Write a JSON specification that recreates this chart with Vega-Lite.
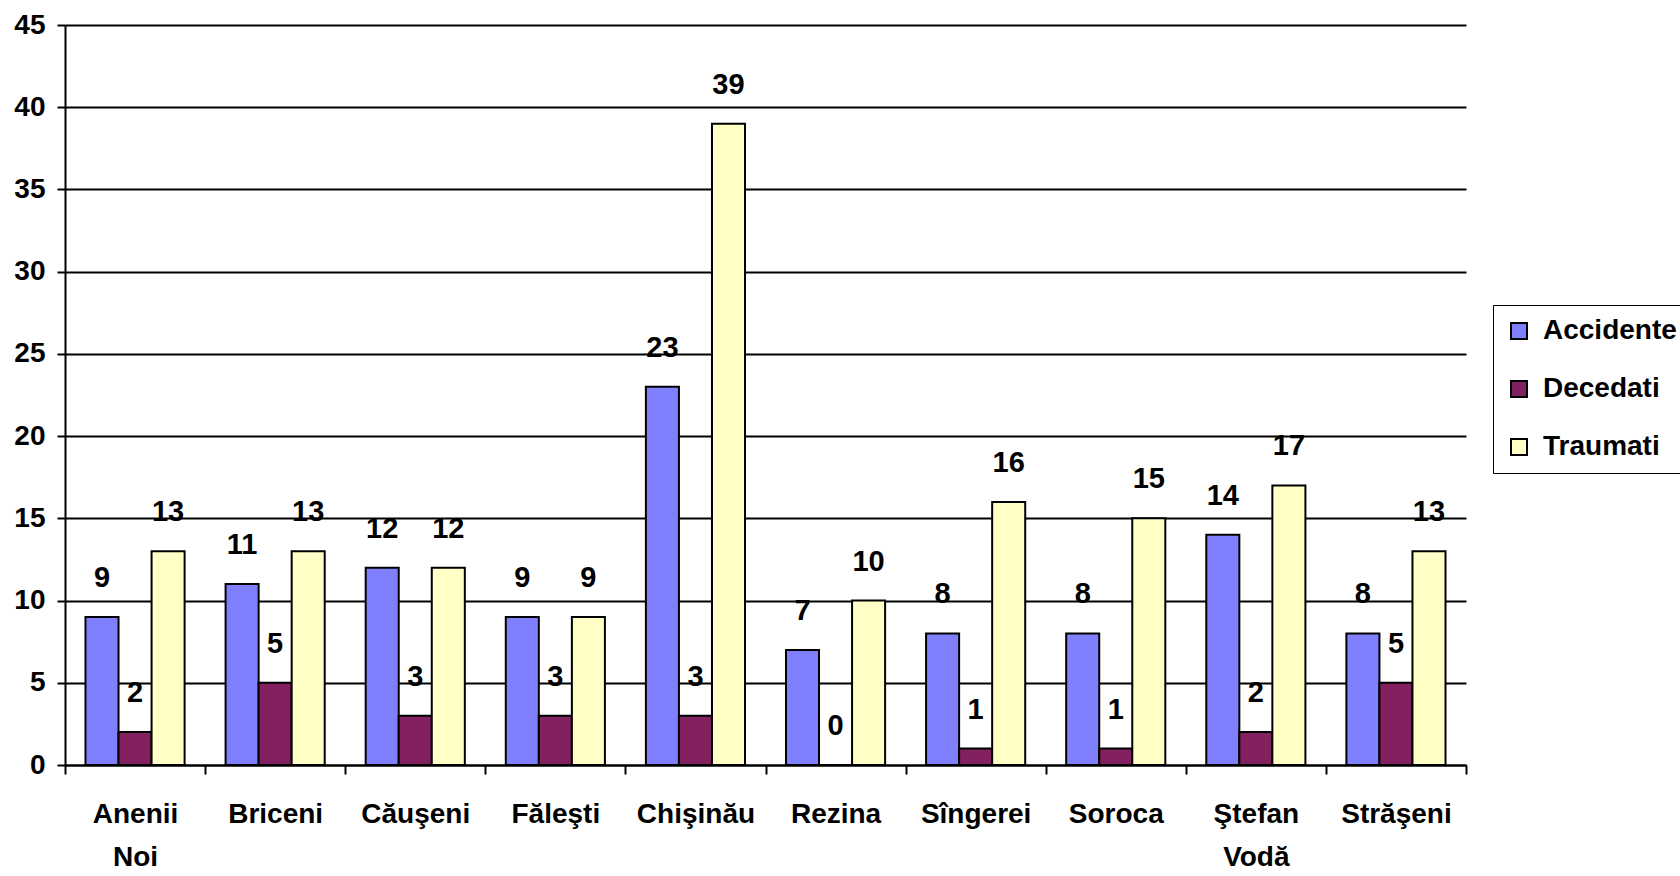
{
  "$schema": "https://vega.github.io/schema/vega-lite/v6.json",
  "autosize": {"type": "none"},
  "padding": {"left": 65, "top": 25, "right": 214, "bottom": 111},
  "width": 1401,
  "height": 740,
  "background": "white",
  "config": {
    "font": "Liberation Sans",
    "view": {"stroke": null},
    "axis": {"labelFont": "Liberation Sans", "labelFontWeight": "bold", "labelColor": "black", "labelFontSize": 28}
  },
  "data": {
    "values": [
      {"raion": "Anenii Noi", "serie": "Accidente", "valoare": 9},
      {"raion": "Anenii Noi", "serie": "Decedati", "valoare": 2},
      {"raion": "Anenii Noi", "serie": "Traumati", "valoare": 13},
      {"raion": "Briceni", "serie": "Accidente", "valoare": 11},
      {"raion": "Briceni", "serie": "Decedati", "valoare": 5},
      {"raion": "Briceni", "serie": "Traumati", "valoare": 13},
      {"raion": "Căuşeni", "serie": "Accidente", "valoare": 12},
      {"raion": "Căuşeni", "serie": "Decedati", "valoare": 3},
      {"raion": "Căuşeni", "serie": "Traumati", "valoare": 12},
      {"raion": "Făleşti", "serie": "Accidente", "valoare": 9},
      {"raion": "Făleşti", "serie": "Decedati", "valoare": 3},
      {"raion": "Făleşti", "serie": "Traumati", "valoare": 9},
      {"raion": "Chişinău", "serie": "Accidente", "valoare": 23},
      {"raion": "Chişinău", "serie": "Decedati", "valoare": 3},
      {"raion": "Chişinău", "serie": "Traumati", "valoare": 39},
      {"raion": "Rezina", "serie": "Accidente", "valoare": 7},
      {"raion": "Rezina", "serie": "Decedati", "valoare": 0},
      {"raion": "Rezina", "serie": "Traumati", "valoare": 10},
      {"raion": "Sîngerei", "serie": "Accidente", "valoare": 8},
      {"raion": "Sîngerei", "serie": "Decedati", "valoare": 1},
      {"raion": "Sîngerei", "serie": "Traumati", "valoare": 16},
      {"raion": "Soroca", "serie": "Accidente", "valoare": 8},
      {"raion": "Soroca", "serie": "Decedati", "valoare": 1},
      {"raion": "Soroca", "serie": "Traumati", "valoare": 15},
      {"raion": "Ştefan Vodă", "serie": "Accidente", "valoare": 14},
      {"raion": "Ştefan Vodă", "serie": "Decedati", "valoare": 2},
      {"raion": "Ştefan Vodă", "serie": "Traumati", "valoare": 17},
      {"raion": "Străşeni", "serie": "Accidente", "valoare": 8},
      {"raion": "Străşeni", "serie": "Decedati", "valoare": 5},
      {"raion": "Străşeni", "serie": "Traumati", "valoare": 13}
    ]
  },
  "encoding": {
    "x": {
      "field": "raion", "type": "nominal", "sort": null, "title": null,
      "scale": {"paddingInner": 0, "paddingOuter": 0},
      "axis": {
        "labelAngle": 0, "tickBand": "extent", "tickColor": "black", "tickWidth": 2, "tickSize": 9,
        "domainColor": "black", "domainWidth": 2, "labelPadding": 26, "labelLineHeight": 43,
        "labelBaseline": "top",
        "labelExpr": "split(datum.label, ' ')"
      }
    },
    "xOffset": {"field": "serie", "type": "nominal", "scale": {"paddingInner": 0, "paddingOuter": 0.62}},
    "y": {
      "field": "valoare", "type": "quantitative", "title": null,
      "scale": {"domain": [0, 45], "nice": false},
      "axis": {
        "values": [0, 5, 10, 15, 20, 25, 30, 35, 40, 45],
        "grid": true, "gridColor": "black", "gridWidth": 2, "gridOpacity": 1,
        "domainColor": "black", "domainWidth": 2, "tickColor": "black", "tickWidth": 2, "tickSize": 8,
        "labelPadding": 12
      }
    }
  },
  "layer": [
    {
      "mark": {"type": "bar", "stroke": "black", "strokeWidth": 2},
      "encoding": {
        "color": {
          "field": "serie", "type": "nominal",
          "scale": {"domain": ["Accidente", "Decedati", "Traumati"], "range": ["#8080FF", "#822060", "#FFFFC6"]},
          "legend": {
            "title": null, "orient": "none", "legendX": 1428, "legendY": 280,
            "strokeColor": "black", "fillColor": "white", "padding": 12,
            "symbolType": "square", "symbolSize": 256, "symbolStrokeColor": "black", "symbolStrokeWidth": 2,
            "symbolOpacity": 1,
            "labelFont": "Liberation Sans", "labelFontWeight": "bold", "labelFontSize": 28, "labelColor": "black",
            "labelOffset": 10, "rowPadding": 30, "labelLimit": 400
          }
        }
      }
    },
    {
      "mark": {"type": "text", "font": "Liberation Sans", "fontWeight": "bold", "fontSize": 29, "color": "black", "baseline": "alphabetic", "dy": -30},
      "encoding": {"text": {"field": "valoare", "type": "quantitative"}}
    }
  ]
}
